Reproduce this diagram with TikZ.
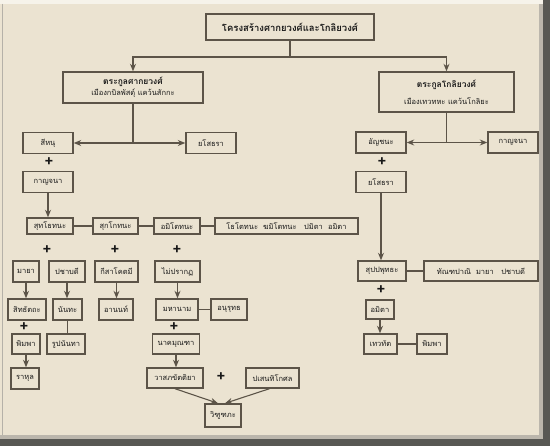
\documentclass[tikz,border=0pt]{standalone}
\usepackage{fontspec}
\newfontfamily\thaifont[Script=Thai]{Loma}
\usetikzlibrary{positioning, arrows.meta, calc}
\definecolor{paper}{RGB}{235,227,209}
\definecolor{boxline}{RGB}{92,84,72}
\definecolor{shadowgray}{RGB}{88,88,84}

\begin{document}
\begin{tikzpicture}[
		x=1pt, y=-1pt,
		>={Stealth[length=7.5pt, width=6pt]},
		person/.style={draw=boxline, line width=1.4pt, fill=paper, font=\thaifont\fontsize{7.5}{8.5}\selectfont, inner sep=1pt, minimum height=21pt, text=black!90},
		clan/.style={person, align=center},
		conn/.style={draw=boxline, line width=1.1pt},
		plus/.style={font=\thaifont\bfseries\fontsize{15}{15}\selectfont, inner sep=0pt, text=black!90}
		]
		
		% ==========================================
		% FRAME
		% ==========================================
		\useasboundingbox (0,0) rectangle (550,446);
		\fill[paper] (0,0) rectangle (550,446);
		\fill[white!55!paper] (0,0) rectangle (550,4);
		\fill[gray!45!paper] (539,4) rectangle (543,439);
		\fill[gray!45!paper] (0,435) rectangle (543,439);
		\fill[shadowgray] (543,0) rectangle (550,446);
		\fill[shadowgray] (0,439) rectangle (550,446);
		\draw[gray!50!paper, line width=1pt] (2,4) -- (2,435);
		
		% ==========================================
		% 1. TITLE AND THE TWO CLANS
		% ==========================================
		\node[person, font=\thaifont\bfseries\fontsize{9.5}{10}\selectfont, minimum width=168pt, minimum height=26pt] (title) at (290,27) {โครงสร้างศากยวงศ์และโกลิยวงศ์};
		
		\node[clan, minimum width=140pt, minimum height=31pt] (sakya) at (133,87.5) {{\bfseries\fontsize{8.5}{9}\selectfont ตระกูลศากยวงศ์}\\[1pt] เมืองกบิลพัสดุ์ แคว้นสักกะ};
		\node[clan, minimum width=135pt, minimum height=40pt] (koliya) at (446.5,92) {{\bfseries\fontsize{8.5}{9}\selectfont ตระกูลโกลิยวงศ์}\\[7pt] เมืองเทวทหะ แคว้นโกลิยะ};
		
		\coordinate (top-split) at (290,57);
		\draw[conn] (title) -- (top-split);
		\draw[conn, ->] (top-split) -| (sakya);
		\draw[conn, ->] (top-split) -| (koliya);
		
		% ==========================================
		% 2. SAKYA SIDE
		% ==========================================
		\node[person, minimum width=50pt] (sihanu) at (48,143) {สีหนุ};
		\node[person, minimum width=50pt] (yasoL) at (211,143) {ยโสธรา};
		\node[plus] (plus1) at (49,162) {+};
		\node[person, minimum width=50pt] (kanL) at (48,182) {กาญจนา};
		
		\coordinate (sakya-split) at (sakya.south |- sihanu);
		\draw[conn] (sakya) -- (sakya-split);
		\draw[conn, ->] (sakya-split) -- (sihanu);
		\draw[conn, ->] (sakya-split) -- (yasoL);
		
		% sons of Sihanu
		\node[person, minimum width=46pt, minimum height=16pt] (suddho) at (50,226) {สุทโธทนะ};
		\node[person, minimum width=45pt, minimum height=16pt] (sukko) at (115.5,226) {สุกโกทนะ};
		\node[person, minimum width=46pt, minimum height=16pt] (amito) at (177,226) {อมิโตทนะ};
		\node[person, minimum width=143pt, minimum height=16pt] (others) at (286.5,226) {โธโตทนะ\ \ ฆมิโตทนะ\ \ \ ปมิตา\ \ อมิตา};
		
		\draw[conn, ->] (kanL.south) -- (kanL.south |- suddho.north);
		\draw[conn] (suddho) -- (sukko) (sukko) -- (amito) (amito) -- (others);
		
		\node[plus] (plus2) at (47,250) {+};
		\node[plus] (plus3) at (115,250) {+};
		\node[plus] (plus4) at (177,250) {+};
		
		% wives
		\node[person, minimum width=26pt] (maya) at (26,271.5) {มายา};
		\node[person, minimum width=36pt] (pajapati) at (67,271.5) {ปชาบดี};
		\node[person, minimum width=43pt] (kisa) at (116.5,271.5) {กีสาโคตมี};
		\node[person, minimum width=45pt] (unknown) at (177.5,271.5) {ไม่ปรากฏ};
		
		% children
		\node[person, minimum width=38pt] (siddh) at (27,309.5) {สิทธัตถะ};
		\node[person, minimum width=29pt] (nanda) at (67.5,309.5) {นันทะ};
		\node[person, minimum width=34pt] (ananda) at (116,309.5) {อานนท์};
		\node[person, minimum width=42pt] (mahanama) at (177,309.5) {มหานาม};
		\node[person, minimum width=36pt] (anurud) at (229,309.5) {อนุรุทธ};
		
		\draw[conn, ->] (maya) -- (maya |- siddh.north);
		\draw[conn, ->] (pajapati) -- (pajapati |- nanda.north);
		\draw[conn, ->] (kisa) -- (kisa |- ananda.north);
		\draw[conn, ->] (unknown) -- (unknown |- mahanama.north);
		\draw[conn] (mahanama) -- (anurud);
		
		\node[plus] (plus5) at (24,327) {+};
		\node[plus] (plus6) at (174,327) {+};
		
		\node[person, minimum width=28pt, minimum height=20pt] (bimbaL) at (26,344) {พิมพา};
		\node[person, minimum width=38pt, minimum height=20pt] (rupa) at (66,344) {รูปนันทา};
		\node[person, minimum width=47pt, minimum height=20pt] (naga) at (176,344) {นาคมุณฑา};
		
		\draw[conn] (nanda) -- (nanda |- rupa.north);
		
		% grandchildren
		\node[person, minimum width=28pt] (rahula) at (25,378.5) {ราหุล};
		\node[person, minimum width=56pt, minimum height=20pt] (vasabha) at (175,378) {วาสภขัตติยา};
		\node[plus] (plus7) at (221,377) {+};
		\node[person, minimum width=53pt, minimum height=20pt] (pasen) at (272.5,378) {ปเสนทิโกศล};
		\node[person, minimum width=36pt, minimum height=23pt] (vidu) at (223,415.5) {วิฑูฑภะ};
		
		\draw[conn, ->] (bimbaL) -- (bimbaL |- rahula.north);
		\draw[conn, ->] (naga) -- (naga |- vasabha.north);
		\draw[conn, ->] (vasabha.south) -- ([xshift=-5pt]vidu.north);
		\draw[conn, ->] ([xshift=-3pt]pasen.south) -- ([xshift=2pt]vidu.north);
		
		% ==========================================
		% 3. KOLIYA SIDE
		% ==========================================
		\node[person, minimum width=50pt] (anchana) at (381,142.5) {อัญชนะ};
		\node[person, minimum width=50pt] (kanR) at (513,142.5) {กาญจนา};
		\node[plus] (plus8) at (382,162) {+};
		\node[person, minimum width=50pt] (yasoR) at (381,182) {ยโสธรา};
		
		\coordinate (koliya-split) at (koliya.south |- anchana);
		\draw[conn] (koliya) -- (koliya-split);
		\draw[conn, ->] (koliya-split) -- (anchana);
		\draw[conn, ->] (koliya-split) -- (kanR);
		
		\node[person, minimum width=48pt, minimum height=20pt] (suppa) at (382,271) {สุปปพุทธะ};
		\node[person, minimum width=114pt, minimum height=20pt] (dandap) at (481,271) {ทัณฑปาณิ\ \ มายา\ \ \ ปชาบดี};
		\node[plus] (plus9) at (381,290) {+};
		\node[person, minimum width=28pt, minimum height=19pt] (amita) at (380,309.5) {อมิตา};
		\node[person, minimum width=33pt, minimum height=20pt] (devad) at (380.5,344) {เทวทัต};
		\node[person, minimum width=30pt, minimum height=20pt] (bimbaR) at (432,344) {พิมพา};
		
		\draw[conn, ->] (yasoR) -- (yasoR |- suppa.north);
		\draw[conn] (suppa) -- (dandap);
		\draw[conn, ->] (amita) -- (amita |- devad.north);
		\draw[conn] (devad) -- (bimbaR);
		
	\end{tikzpicture}
\end{document}
